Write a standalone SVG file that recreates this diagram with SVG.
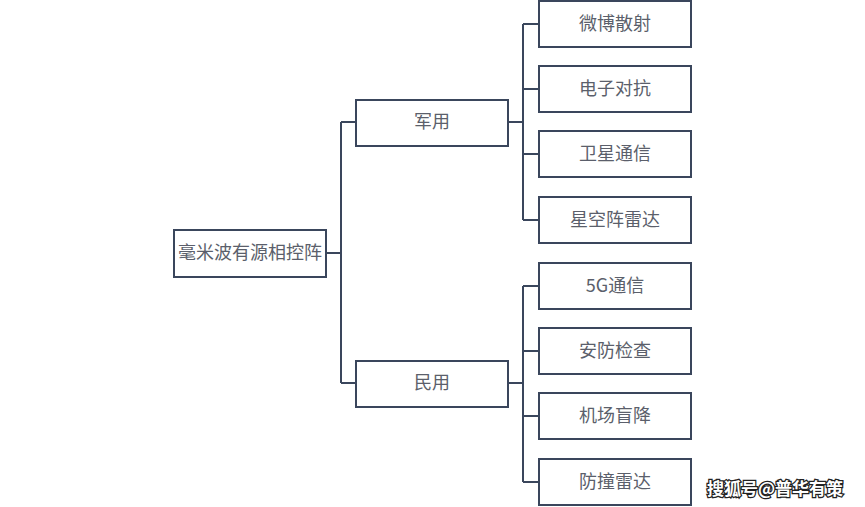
<svg xmlns="http://www.w3.org/2000/svg" width="865" height="507" viewBox="0 0 865 507">
<style>
.box{fill:#fff;stroke:#3a465c;stroke-width:2}
.t{font-family:"Noto Sans CJK SC","Noto Sans",sans-serif;font-size:18px;fill:#5b5f6b;text-anchor:middle;dominant-baseline:central}
.c{fill:none;stroke:#3a465c;stroke-width:2}
.wm{font-family:"Noto Sans CJK SC",sans-serif;font-size:17px;font-weight:bold;fill:#fff;stroke:#222;stroke-width:2.5;paint-order:stroke}
</style>
<rect width="865" height="507" fill="#fff"/>
<g id="connectors">
<path class="c" d="M326 253H341" stroke-width="3"/>
<path class="c" d="M341 122V383M341 122H356M341 383H356"/>
<path class="c" d="M508 122H523M523 24V220M523 24H539M523 89H539M523 154H539M523 220H539"/>
<path class="c" d="M508 383H523M523 286V482M523 286H539M523 351H539M523 416H539M523 482H539"/>
</g>
<g id="root"><rect class="box" x="174" y="230" width="152" height="47"/><text class="t" x="250" y="251">毫米波有源相控阵</text></g>
<g id="military"><rect class="box" x="356" y="100" width="152" height="46"/><text class="t" x="432" y="120">军用</text></g>
<g id="civil"><rect class="box" x="356" y="361" width="152" height="46"/><text class="t" x="432" y="381">民用</text></g>
<g id="m1"><rect class="box" x="539" y="1" width="152" height="46"/><text class="t" x="615" y="22">微博散射</text></g>
<g id="m2"><rect class="box" x="539" y="66" width="152" height="46"/><text class="t" x="615" y="87">电子对抗</text></g>
<g id="m3"><rect class="box" x="539" y="131" width="152" height="46"/><text class="t" x="615" y="152">卫星通信</text></g>
<g id="m4"><rect class="box" x="539" y="197" width="152" height="46"/><text class="t" x="615" y="218">星空阵雷达</text></g>
<g id="c1"><rect class="box" x="539" y="263" width="152" height="46"/><text class="t" x="615" y="284">5G通信</text></g>
<g id="c2"><rect class="box" x="539" y="328" width="152" height="46"/><text class="t" x="615" y="349">安防检查</text></g>
<g id="c3"><rect class="box" x="539" y="393" width="152" height="46"/><text class="t" x="615" y="414">机场盲降</text></g>
<g id="c4"><rect class="box" x="539" y="459" width="152" height="46"/><text class="t" x="615" y="480">防撞雷达</text></g>
<text class="wm" x="707" y="495">搜狐号@普华有策</text>
</svg>
